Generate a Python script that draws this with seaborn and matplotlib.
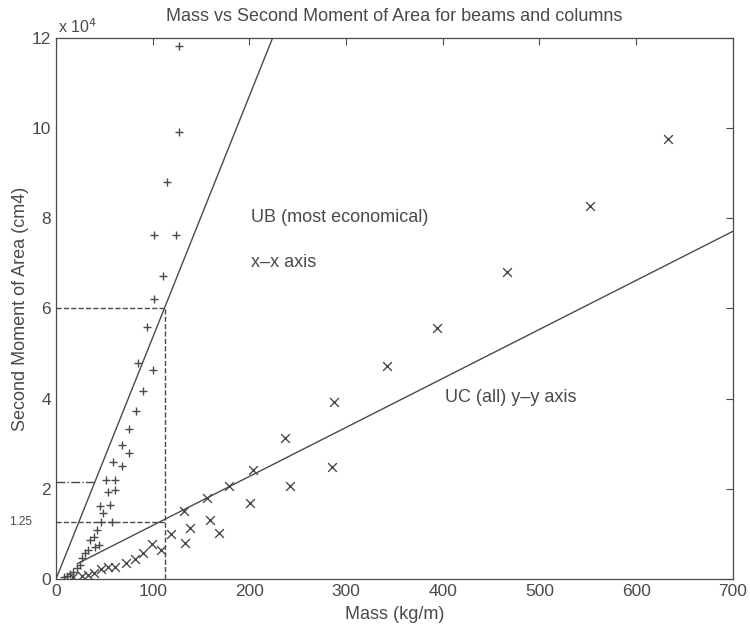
import matplotlib
matplotlib.use("Agg")
import matplotlib.pyplot as plt
import seaborn as sns
import pandas as pd

# UB sections, x-x axis  (mass kg/m, second moment cm^4)
ub_mass = [8, 11, 14, 18, 22, 25, 27, 30, 33, 35, 40, 44, 39, 42,
           47, 58, 49, 45.5, 56, 54, 61, 52, 61, 68, 59, 75, 68, 76, 83,
           90, 100, 85, 94, 101, 111, 101, 124, 115, 127, 127]
ub_I = [400, 700, 1100, 1600, 2400, 3100, 4700, 5800, 6400, 8700, 7100, 7500, 9300, 10900,
        12700, 12700, 14700, 16200, 16400, 19400, 19700, 22000, 22000, 25000, 26000, 28000, 29800, 33300, 37300,
        41600, 46400, 48000, 55800, 62000, 67300, 76400, 76400, 88000, 99100, 118200]

# UC sections, y-y axis
uc_mass = [18, 27, 33, 39, 47, 54, 61, 72, 82, 90, 99, 109, 119, 133,
           139, 132, 159, 169, 156, 179, 201, 204, 242, 237, 285, 288,
           342, 394, 467, 552, 633]
uc_I = [400, 700, 900, 1300, 2200, 2700, 2700, 3600, 4400, 5800, 7800, 6400, 10000, 8000,
        11300, 15100, 13100, 10200, 18000, 20700, 16900, 24200, 20700, 31300, 24900, 39300,
        47300, 55600, 68000, 82700, 97600]

# fitted lines
ub_line_x = [0, 224]
ub_line_y = [0, 120000]
uc_line_x = [22, 700]
uc_line_y = [3400, 77100]

# reference guides
guide_x = 113
guide_ub_I = 60000
guide_mid_I = 21500
guide_mid_x = 40
guide_low_I = 12600

x_ticks = [0, 100, 200, 300, 400, 500, 600, 700]
y_ticks = [0, 20000, 40000, 60000, 80000, 100000, 120000]
y_tick_labels = ["0", "2", "4", "6", "8", "10", "12"]

sns.set_style("white")
plt.rcParams["font.family"] = ["Liberation Sans", "DejaVu Sans"]

fig = plt.figure(figsize=(7.5, 6.29), dpi=100)
ax = fig.add_axes([0.0747, 0.0795, 0.9023, 0.8601])

ink = "#4a4a4a"

ub = pd.DataFrame({"mass": ub_mass, "I": ub_I})
uc = pd.DataFrame({"mass": uc_mass, "I": uc_I})
sns.scatterplot(data=ub, x="mass", y="I", marker="+", s=28, color=ink, linewidth=1.0, ax=ax)
sns.scatterplot(data=uc, x="mass", y="I", marker="x", s=40, color=ink, linewidth=1.0, ax=ax)

sns.lineplot(x=ub_line_x, y=ub_line_y, color=ink, linewidth=1.0, ax=ax)
sns.lineplot(x=uc_line_x, y=uc_line_y, color=ink, linewidth=1.0, ax=ax)

ax.plot([0, guide_x], [guide_ub_I, guide_ub_I], "--", color=ink, linewidth=1.0)
ax.plot([guide_x, guide_x], [0, guide_ub_I], "--", color=ink, linewidth=1.0)
ax.plot([0, guide_x], [guide_low_I, guide_low_I], "--", color=ink, linewidth=1.0)
ax.plot([0, guide_mid_x], [guide_mid_I, guide_mid_I], "-.", color=ink, linewidth=1.0)

ax.text(202, 80200, "UB (most economical)", fontsize=13, color=ink, va="center")
ax.text(202, 70200, "x\u2013x axis", fontsize=13, color=ink, va="center")
ax.text(402, 40200, "UC (all) y\u2013y axis", fontsize=13, color=ink, va="center")

ax.set_xlim(0, 700)
ax.set_ylim(0, 120000)
ax.set_xticks(x_ticks)
ax.set_yticks(y_ticks)
ax.set_yticklabels(y_tick_labels)
ax.tick_params(direction="in", length=5, top=True, right=True, labelsize=12.5,
               colors=ink, width=0.8)
for s in ax.spines.values():
    s.set_color(ink)
    s.set_linewidth(0.9)

ax.text(0.003, 1.003, r"x 10$^4$", transform=ax.transAxes, fontsize=11.5, color=ink,
        va="bottom", ha="left")
ax.text(-0.035, guide_low_I, "1.25", transform=ax.get_yaxis_transform(), fontsize=8.5,
        color=ink, va="center", ha="right")

ax.set_title("Mass vs Second Moment of Area for beams and columns", fontsize=13,
             color=ink, pad=12)
ax.set_xlabel("Mass (kg/m)", fontsize=13, color=ink, labelpad=5)
ax.set_ylabel("Second Moment of Area (cm4)", fontsize=13, color=ink, labelpad=2)

fig.savefig("out.png", dpi=100)
